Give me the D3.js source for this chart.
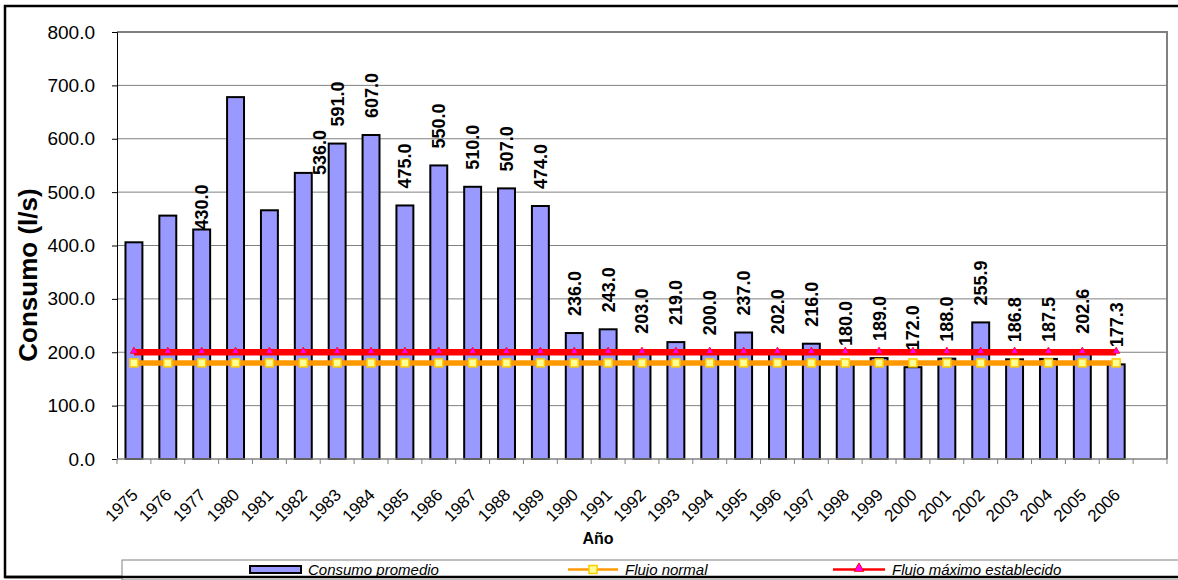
<!DOCTYPE html>
<html>
<head>
<meta charset="utf-8">
<script src="https://cdn.jsdelivr.net/npm/d3@7"></script>
<style>
  html, body { margin: 0; padding: 0; background: #ffffff; }
  svg { display: block; font-family: Arial, "Liberation Sans", sans-serif; }
</style>
</head>
<body>
<svg id="chart" width="1178" height="580"></svg>
<script>
// Años con registro de consumo
const categories = ["1975", "1976", "1977", "1980", "1981", "1982", "1983", "1984", "1985", "1986",
  "1987", "1988", "1989", "1990", "1991", "1992", "1993", "1994", "1995", "1996",
  "1997", "1998", "1999", "2000", "2001", "2002", "2003", "2004", "2005", "2006"];

// Consumo promedio anual (l/s)
const consumoPromedio = [406, 456, 430, 678, 466, 536, 591, 607, 475, 550,
  510, 507, 474, 236, 243, 203, 219, 200, 237, 202,
  216, 180, 189, 172, 188, 255.9, 186.8, 187.5, 202.6, 177.3];

// Flujo normal (l/s)
const flujoNormal = [180, 180, 180, 180, 180, 180, 180, 180, 180, 180,
  180, 180, 180, 180, 180, 180, 180, 180, 180, 180,
  180, 180, 180, 180, 180, 180, 180, 180, 180, 180];

// Flujo máximo establecido (l/s)
const flujoMaximo = [200, 200, 200, 200, 200, 200, 200, 200, 200, 200,
  200, 200, 200, 200, 200, 200, 200, 200, 200, 200,
  200, 200, 200, 200, 200, 200, 200, 200, 200, 200];

// Marcas del eje de valores
const yTicks = [0, 100, 200, 300, 400, 500, 600, 700, 800];

// Años cuyo valor no lleva etiqueta
const unlabeledYears = ["1975", "1976", "1980", "1981"];

// ---------------------------------------------------------------
const svg = d3.select("#chart");
const W = 1178, H = 580;
const plot = { left: 117, right: 1167, top: 32, bottom: 459 };

svg.append("rect").attr("width", W).attr("height", H).attr("fill", "#ffffff");

// Marco exterior del gráfico
svg.append("rect")
  .attr("x", 5).attr("y", 6)
  .attr("width", 1200).attr("height", 571)
  .attr("fill", "none").attr("stroke", "#000").attr("stroke-width", 2.5);

// Escalas: una ranura vacía al final del eje de categorías
const slots = categories.concat([" "]);
const x = d3.scaleBand().domain(slots).range([plot.left, plot.right]).padding(0);
const y = d3.scaleLinear().domain([0, 800]).range([plot.bottom, plot.top]);
const cx = c => x(c) + x.bandwidth() / 2;

// Líneas de división horizontales
svg.append("g")
  .selectAll("line")
  .data(yTicks.filter(t => t > 0 && t < 800))
  .join("line")
  .attr("x1", plot.left).attr("x2", plot.right)
  .attr("y1", d => y(d)).attr("y2", d => y(d))
  .attr("stroke", "#808080").attr("stroke-width", 1);

// Borde del área de trazado (arriba y derecha)
svg.append("path")
  .attr("d", `M${plot.left},${plot.top}H${plot.right}V${plot.bottom}`)
  .attr("fill", "none").attr("stroke", "#808080").attr("stroke-width", 2);

// Barras de consumo promedio
const barW = x.bandwidth() * 0.5;
svg.append("g")
  .selectAll("rect")
  .data(categories)
  .join("rect")
  .attr("x", c => cx(c) - barW / 2)
  .attr("y", (c, i) => y(consumoPromedio[i]))
  .attr("width", barW)
  .attr("height", (c, i) => y(0) - y(consumoPromedio[i]))
  .attr("fill", "#9999ff")
  .attr("stroke", "#000").attr("stroke-width", 2);

// Eje Y
const yAxis = svg.append("g")
  .attr("transform", `translate(${plot.left},0)`)
  .call(d3.axisLeft(y).tickValues(yTicks).tickSize(5).tickPadding(17).tickFormat(d3.format(".1f")));
yAxis.select(".domain").attr("stroke", "#000").attr("stroke-width", 1);
yAxis.selectAll(".tick line").attr("stroke", "#000");
yAxis.selectAll(".tick text")
  .attr("font-size", 19).attr("font-family", "Arial, 'Liberation Sans', sans-serif").attr("fill", "#000");

// Eje X: línea, marcas entre categorías y etiquetas rotadas
const xAxis = svg.append("g")
  .attr("transform", `translate(0,${plot.bottom})`)
  .call(d3.axisBottom(x).tickValues(categories).tickSize(0).tickPadding(0));
xAxis.select(".domain").remove();
xAxis.selectAll(".tick text")
  .attr("font-size", 17).attr("font-family", "Arial, 'Liberation Sans', sans-serif").attr("fill", "#000")
  .attr("text-anchor", "end")
  .attr("x", 0).attr("y", 0).attr("dy", 0)
  .attr("transform", "translate(5,37) rotate(-45)");

svg.append("line")
  .attr("x1", plot.left).attr("x2", plot.right)
  .attr("y1", plot.bottom).attr("y2", plot.bottom)
  .attr("stroke", "#808080").attr("stroke-width", 1.5);
svg.append("g")
  .selectAll("line")
  .data(slots.map(s => x(s)).concat([plot.right]))
  .join("line")
  .attr("x1", d => d).attr("x2", d => d)
  .attr("y1", plot.bottom).attr("y2", plot.bottom + 5)
  .attr("stroke", "#808080").attr("stroke-width", 1);

// Series de líneas
const lineGen = vals => d3.line().x((d, i) => cx(categories[i])).y(d => y(d))(vals);

svg.append("path")
  .attr("d", lineGen(flujoNormal))
  .attr("fill", "none").attr("stroke", "#ff9900").attr("stroke-width", 5.5);
svg.append("path")
  .attr("d", lineGen(flujoMaximo))
  .attr("fill", "none").attr("stroke", "#ff0000").attr("stroke-width", 6.5);

// Marcadores cuadrados (flujo normal)
svg.append("g")
  .selectAll("rect")
  .data(flujoNormal)
  .join("rect")
  .attr("x", (d, i) => cx(categories[i]) - 4)
  .attr("y", d => y(d) - 4)
  .attr("width", 8).attr("height", 8)
  .attr("fill", "#ffff99").attr("stroke", "#ffcc00").attr("stroke-width", 1.5);

// Marcadores triangulares (flujo máximo)
const tri = d3.symbol().type(d3.symbolTriangle).size(22);
svg.append("g")
  .selectAll("path")
  .data(flujoMaximo)
  .join("path")
  .attr("d", tri)
  .attr("transform", (d, i) => `translate(${cx(categories[i])},${y(d) - 1})`)
  .attr("fill", "#ff00ff").attr("stroke", "#ff0000").attr("stroke-width", 0.8);

// Etiquetas de valor (vertical, sobre cada barra)
const labelNudge = { "1977": [0, 17], "1982": [16, 19] };
svg.append("g")
  .selectAll("text")
  .data(categories.map((c, i) => ({ c, v: consumoPromedio[i] })).filter(d => !unlabeledYears.includes(d.c)))
  .join("text")
  .attr("transform", d => {
    const n = labelNudge[d.c] || [0, 0];
    return `translate(${cx(d.c) + n[0]},${y(d.v) - 17 + n[1]}) rotate(-90)`;
  })
  .attr("dy", "0.36em")
  .attr("text-anchor", "start")
  .attr("font-size", 18).attr("font-weight", "bold").attr("fill", "#000")
  .text(d => d.v.toFixed(1));

// Títulos de los ejes
svg.append("text")
  .attr("transform", "translate(28,275) rotate(-90)")
  .attr("dy", "0.36em")
  .attr("text-anchor", "middle")
  .attr("font-size", 26).attr("font-weight", "bold")
  .text("Consumo (l/s)");

svg.append("text")
  .attr("x", 598).attr("y", 544)
  .attr("text-anchor", "middle")
  .attr("font-size", 16).attr("font-weight", "bold")
  .text("Año");

// Leyenda
const lg = svg.append("g");
lg.append("rect")
  .attr("x", 122).attr("y", 560).attr("width", 1100).attr("height", 20)
  .attr("fill", "#fff").attr("stroke", "#808080").attr("stroke-width", 1);
// borde inferior del marco sobre la leyenda
svg.append("line")
  .attr("x1", 5).attr("x2", W).attr("y1", 577).attr("y2", 577)
  .attr("stroke", "#000").attr("stroke-width", 2.5);

const legendY = 569.5;
lg.append("rect")
  .attr("x", 250).attr("y", legendY - 3.5).attr("width", 51).attr("height", 7)
  .attr("fill", "#9999ff").attr("stroke", "#000").attr("stroke-width", 2);
lg.append("text").attr("x", 308).attr("y", legendY + 5.5)
  .attr("font-size", 15).attr("font-style", "italic").text("Consumo promedio");

lg.append("line").attr("x1", 568).attr("x2", 618).attr("y1", legendY).attr("y2", legendY)
  .attr("stroke", "#ff9900").attr("stroke-width", 2.5);
lg.append("rect").attr("x", 589).attr("y", legendY - 4).attr("width", 8).attr("height", 8)
  .attr("fill", "#ffff99").attr("stroke", "#ffcc00").attr("stroke-width", 1.5);
lg.append("text").attr("x", 625).attr("y", legendY + 5.5)
  .attr("font-size", 15).attr("font-style", "italic").text("Flujo normal");

lg.append("line").attr("x1", 833).attr("x2", 885).attr("y1", legendY).attr("y2", legendY)
  .attr("stroke", "#ff0000").attr("stroke-width", 2.5);
lg.append("path").attr("d", d3.symbol().type(d3.symbolTriangle).size(40))
  .attr("transform", `translate(859,${legendY - 1})`)
  .attr("fill", "#ff00ff").attr("stroke", "#ff0000").attr("stroke-width", 1);
lg.append("text").attr("x", 892).attr("y", legendY + 5.5)
  .attr("font-size", 15).attr("font-style", "italic").text("Flujo máximo establecido");
</script>
</body>
</html>
